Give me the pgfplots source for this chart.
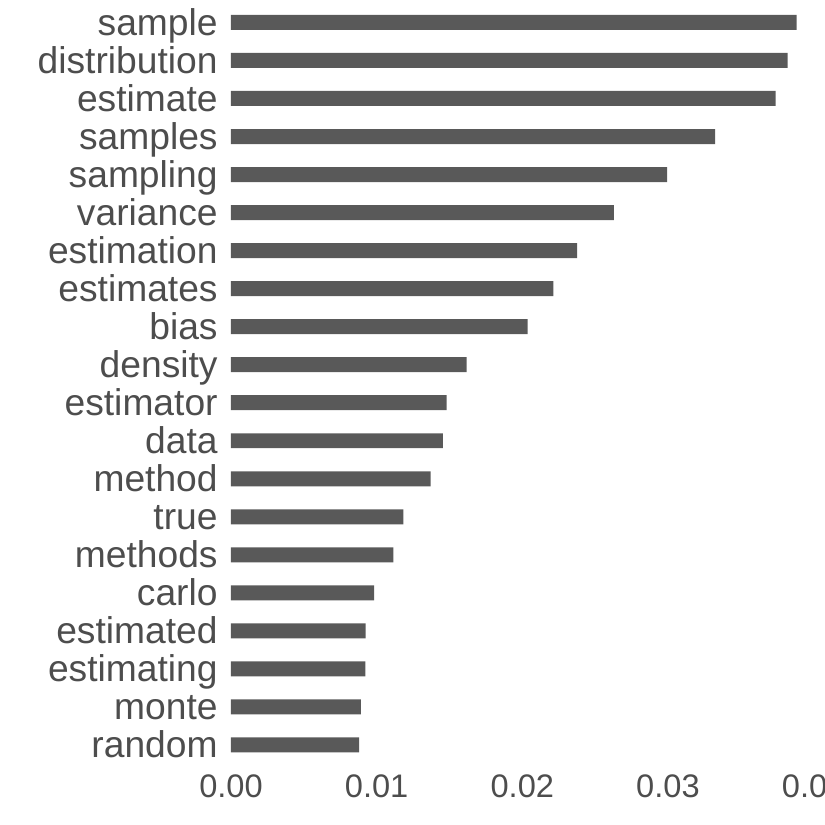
\documentclass[border=0pt]{standalone}
\usepackage{fontspec}
\setmainfont{Liberation Sans}
\usepackage{pgfplots}
\pgfplotsset{compat=1.18}
\definecolor{barc}{HTML}{595959}
\definecolor{txt}{HTML}{4D4D4D}
\begin{document}
\begin{tikzpicture}
\begin{axis}[
  scale only axis,
  width=297pt, height=383.9pt,
  xmin=0, xmax=0.04078,
  ymin=-0.6, ymax=19.59,
  enlargelimits=false,
  axis line style={draw=none},
  major tick length=0pt,
  scaled x ticks=false,
  xtick={0,0.01,0.02,0.03,0.04},
  xticklabels={0.00,0.01,0.02,0.03,0.04},
  ytick={0,...,19},
  yticklabels={random,monte,estimating,estimated,carlo,methods,true,method,data,estimator,density,bias,estimates,estimation,variance,sampling,samples,estimate,distribution,sample},
  xticklabel style={font=\fontsize{16.3}{19}\selectfont, text=txt, anchor=base, inner sep=0pt, yshift=-14.6pt},
  yticklabel style={font=\fontsize{18.6}{22}\selectfont, text=txt, anchor=base east, inner sep=0pt, xshift=-6.5pt, yshift=-6.5pt},
  /pgf/number format/assume math mode=true,
  clip=false,
]
\addplot[xbar, fill=barc, draw=none, bar width=0.394] coordinates {
(0.00879,0) (0.00892,1) (0.00922,2) (0.00925,3) (0.00982,4) (0.01114,5) (0.01183,6) (0.01371,7) (0.01455,8) (0.01481,9) (0.01618,10) (0.02037,11) (0.02213,12) (0.02377,13) (0.02629,14) (0.02995,15) (0.03323,16) (0.03739,17) (0.03822,18) (0.03884,19)
};
\end{axis}
\pgfresetboundingbox
\path[use as bounding box] ([xshift=-115.5pt,yshift=-28.6pt]current axis.south west) rectangle (current axis.north east);
\end{tikzpicture}
\end{document}
